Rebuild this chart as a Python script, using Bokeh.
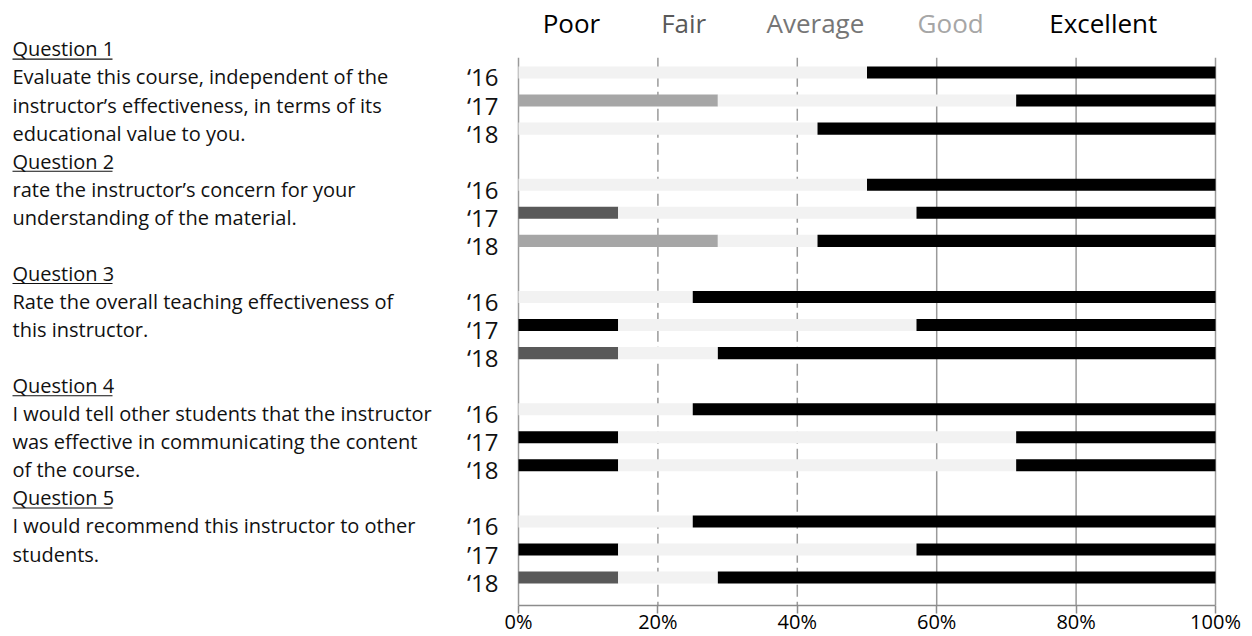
from bokeh.plotting import figure
from bokeh.models import ColumnDataSource, Range1d, FixedTicker, PrintfTickFormatter
from bokeh.core.properties import value
from bokeh.embed import file_html
from bokeh.resources import INLINE

# ---------------- data ----------------
questions = ["Question 1", "Question 2", "Question 3", "Question 4", "Question 5"]
descriptions = [
    ["Evaluate this course, independent of the",
     "instructor\u2019s effectiveness, in terms of its",
     "educational value to you."],
    ["rate the instructor\u2019s concern for your",
     "understanding of the material."],
    ["Rate the overall teaching effectiveness of",
     "this instructor."],
    ["I would tell other students that the instructor",
     "was effective in communicating the content",
     "of the course."],
    ["I would recommend this instructor to other",
     "students."],
]
year_labels = ["\u201816", "\u201817", "\u201818",
               "\u201816", "\u201817", "\u201818",
               "\u201816", "\u201817", "\u201818",
               "\u201816", "\u201817", "\u201818",
               "\u201816", "\u201917", "\u201818"]
ratings = ["Poor", "Fair", "Average", "Good", "Excellent"]
poor      = [0, 0, 0,    0, 0, 0,       0, 14.3, 0,     0, 14.3, 14.3,  0, 14.3, 0]
fair      = [0, 0, 0,    0, 14.3, 0,    0, 0, 14.3,     0, 0, 0,        0, 0, 14.3]
average   = [0, 28.6, 0, 0, 0, 28.6,    0, 0, 0,        0, 0, 0,        0, 0, 0]
good      = [50, 42.8, 42.9, 50, 42.8, 14.3, 25, 42.8, 14.3, 25, 57.1, 57.1, 25, 42.8, 14.3]
excellent = [50, 28.6, 57.1, 50, 42.9, 57.1, 75, 42.9, 71.4, 75, 28.6, 28.6, 75, 42.9, 71.4]
x_ticks = [0, 20, 40, 60, 80, 100]

# ---------------- styles / layout ----------------
bar_colors = ["#000000", "#595959", "#a6a6a6", "#f2f2f2", "#000000"]
legend_colors = ["#000000", "#595959", "#767676", "#a6a6a6", "#000000"]
legend_x = [7.6, 23.7, 42.6, 62.0, 83.9]
FONT = "Open Sans"
TXT_SHIFT = 0.16

W, H_FRAME = 1252, 605
PX0, PX100 = 518, 1215
ppu = (PX100 - PX0) / 100.0
ROW0, ROWPX = 72, 28.06

x_start = -PX0 / ppu
x_end = (W - PX0) / ppu
y_top = -ROW0 / ROWPX
y_bot = (H_FRAME - ROW0) / ROWPX

# row positions: each question group occupies 4 rows (3 bars + gap)
rows = [4 * g + r for g in range(5) for r in range(3)]

p = figure(frame_width=W, frame_height=H_FRAME, output_backend="svg",
           toolbar_location=None, x_range=Range1d(x_start, x_end),
           y_range=Range1d(y_bot, y_top), y_axis_location=None,
           min_border=0, min_border_bottom=20, min_border_left=0,
           min_border_right=0, min_border_top=0)
p.outline_line_color = None
p.xgrid.visible = False
p.ygrid.visible = False
p.background_fill_color = "white"
p.border_fill_color = "white"

# gridlines (behind bars)
grid_top = -0.53
solid = [t for t in x_ticks if t not in (20, 40)]
dashed = [20, 40]
p.segment(x0=solid, x1=solid, y0=[grid_top] * len(solid), y1=[y_bot] * len(solid),
          line_color="#9a9a9a", line_width=1.5)
p.segment(x0=dashed, x1=dashed, y0=[grid_top] * 2, y1=[y_bot] * 2,
          line_color="#9a9a9a", line_width=1.5, line_dash="12 5")

# stacked bars
src = ColumnDataSource(dict(row=rows, Poor=poor, Fair=fair, Average=average,
                            Good=good, Excellent=excellent))
p.hbar_stack(ratings, y="row", height=0.43, color=bar_colors, source=src,
             line_color=None)

# x axis
ax = p.xaxis[0]
ax.ticker = FixedTicker(ticks=x_ticks)
ax.bounds = (0, 100)
ax.formatter = PrintfTickFormatter(format="%d%%")
ax.axis_line_color = "#8c8c8c"
ax.axis_line_width = 1.5
ax.major_tick_line_color = "#8c8c8c"
ax.major_tick_line_width = 1.5
ax.major_tick_in = 0
ax.major_tick_out = 8
ax.minor_tick_line_color = None
ax.major_label_text_font = FONT
ax.major_label_text_font_size = "20px"
ax.major_label_text_color = "#000000"
ax.major_label_standoff = -6

# legend (top)
p.text(x=legend_x, y=[-1.78] * 5, text=ratings, text_font=value(FONT),
       text_font_size="26px", text_color=legend_colors, text_align="center",
       text_baseline="middle")

# year labels
p.text(x=[-2.87] * len(rows), y=[r + TXT_SHIFT for r in rows], text=year_labels,
       text_font=value(FONT), text_font_size="24px", text_color="#111111",
       text_align="right", text_baseline="middle")

# question headers and descriptions
left_x = (12 - PX0) / ppu
hx, hy, dx, dy, dt = [], [], [], [], []
for g, q in enumerate(questions):
    hx.append(left_x)
    hy.append(4 * g - 1 + TXT_SHIFT)
    for i, line in enumerate(descriptions[g]):
        dx.append(left_x)
        dy.append(4 * g + i + TXT_SHIFT)
        dt.append(line)
p.text(x=hx, y=hy, text=questions, text_font=value(FONT), text_font_size="20px",
       text_color="#111111", text_baseline="middle")
p.text(x=dx, y=dy, text=dt, text_font=value(FONT), text_font_size="20px",
       text_color="#111111", text_baseline="middle")
ul_w = 100 / ppu
p.segment(x0=hx, x1=[v + ul_w for v in hx], y0=[v + 0.36 for v in hy],
          y1=[v + 0.36 for v in hy], line_color="#111111", line_width=1.2)

open("out.html", "w").write(file_html(p, INLINE))
